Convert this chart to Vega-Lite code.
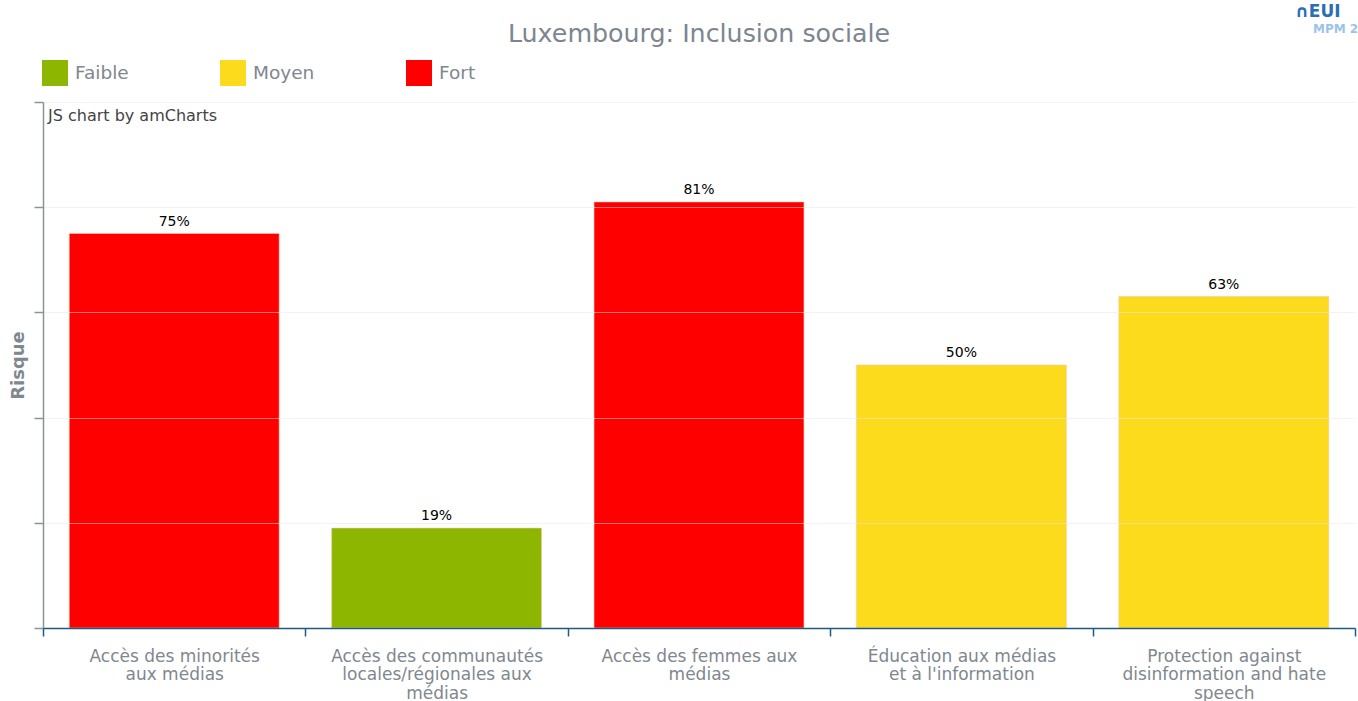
{
  "$schema": "https://vega.github.io/schema/vega-lite/v6.json",
  "width": 1312,
  "height": 526,
  "autosize": {"type": "none"},
  "padding": {"left": 43, "top": 102, "right": 3, "bottom": 73},
  "background": "white",
  "title": {
    "text": "Luxembourg: Inclusion sociale",
    "fontSize": 25.3,
    "font": "DejaVu Sans",
    "fontWeight": "normal",
    "color": "#7d8590",
    "anchor": "middle",
    "offset": 13,
    "dy": 57
  },
  "config": {
    "view": {"stroke": null},
    "font": "DejaVu Sans"
  },
  "data": {
    "values": [
      {"indicateur": "Accès des minorités aux médias", "risque": 75, "niveau": "Fort"},
      {"indicateur": "Accès des communautés locales/régionales aux médias", "risque": 19, "niveau": "Faible"},
      {"indicateur": "Accès des femmes aux médias", "risque": 81, "niveau": "Fort"},
      {"indicateur": "Éducation aux médias et à l'information", "risque": 50, "niveau": "Moyen"},
      {"indicateur": "Protection against disinformation and hate speech", "risque": 63, "niveau": "Moyen"}
    ]
  },
  "encoding": {
    "x": {
      "field": "indicateur",
      "type": "nominal",
      "sort": null,
      "scale": {"paddingInner": 0, "paddingOuter": 0},
      "axis": {
        "title": null,
        "labelAngle": 0,
        "labelFontSize": 17,
        "labelColor": "#80878f",
        "labelLineHeight": 18.5,
        "labelPadding": 12,
        "labelBaseline": "top",
        "labelLimit": 400,
        "domainColor": "#1f5a85",
        "domainWidth": 1.5,
        "tickColor": "#1f5a85",
        "tickWidth": 1.5,
        "tickSize": 8,
        "tickBand": "extent",
        "zindex": 2,
        "labelExpr": "datum.value == 'Accès des minorités aux médias' ? ['Accès des minorités', 'aux médias'] : datum.value == 'Accès des communautés locales/régionales aux médias' ? ['Accès des communautés', 'locales/régionales aux', 'médias'] : datum.value == 'Accès des femmes aux médias' ? ['Accès des femmes aux', 'médias'] : datum.value == \"Éducation aux médias et à l'information\" ? ['Éducation aux médias', \"et à l'information\"] : datum.value == 'Protection against disinformation and hate speech' ? ['Protection against', 'disinformation and hate', 'speech'] : ''"
      }
    }
  },
  "layer": [
    {
      "mark": {"type": "bar", "width": {"band": 0.8}, "stroke": "#f3c9a8", "strokeWidth": 1, "strokeOpacity": 0.6},
      "encoding": {
        "y": {
          "field": "risque",
          "type": "quantitative",
          "scale": {"domain": [0, 100], "nice": false},
          "axis": {
            "title": "Risque",
            "titleFontSize": 18,
            "titleFontWeight": "bold",
            "titleColor": "#80878f",
            "titleX": -25,
            "titleY": 263,
            "titleAngle": -90,
            "titleBaseline": "middle",
            "titleAlign": "center",
            "values": [0, 20, 40, 60, 80, 100],
            "labels": false,
            "domainColor": "#8a929a",
            "domainWidth": 1.5,
            "tickColor": "#8a929a",
            "tickWidth": 1.5,
            "tickSize": 9,
            "grid": true,
            "gridColor": "#e8e8e8",
            "gridWidth": 1.2,
            "gridOpacity": 0.5,
            "zindex": 1
          }
        },
        "color": {
          "field": "niveau",
          "type": "nominal",
          "scale": {"domain": ["Faible", "Moyen", "Fort"], "range": ["#8db600", "#fbdb1b", "#ff0000"]},
          "legend": {
            "title": null,
            "orient": "none",
            "legendX": -1,
            "legendY": -42,
            "direction": "horizontal",
            "symbolType": "square",
            "symbolSize": 676,
            "symbolStrokeWidth": 0,
            "symbolOpacity": 1,
            "labelFontSize": 18.5,
            "labelColor": "#80878f",
            "labelOffset": 7,
            "columnPadding": 91,
            "labelLimit": 200
          }
        }
      }
    },
    {
      "transform": [{"calculate": "datum.risque + '%'", "as": "etiquette"}],
      "mark": {"type": "text", "dy": -12, "fontSize": 14, "color": "#000000"},
      "encoding": {
        "y": {"field": "risque", "type": "quantitative"},
        "text": {"field": "etiquette", "type": "nominal"}
      }
    },
    {
      "transform": [{"filter": "datum.indicateur == 'Accès des minorités aux médias'"}],
      "mark": {"type": "text", "align": "left", "baseline": "middle", "dx": 5, "fontSize": 16, "color": "#444444"},
      "encoding": {
        "x": {"field": "indicateur", "type": "nominal", "sort": null, "bandPosition": 0},
        "y": {"datum": 97.3},
        "text": {"value": "JS chart by amCharts"}
      }
    },
    {
      "transform": [{"filter": "datum.indicateur == 'Protection against disinformation and hate speech'"}],
      "mark": {"type": "text", "align": "left", "baseline": "middle", "dx": -60, "fontSize": 17, "fontWeight": "bold", "color": "#2a6fb0"},
      "encoding": {
        "x": {"field": "indicateur", "type": "nominal", "sort": null, "bandPosition": 1},
        "y": {"datum": 117.1},
        "text": {"value": "∩EUI"}
      }
    },
    {
      "transform": [{"filter": "datum.indicateur == 'Protection against disinformation and hate speech'"}],
      "mark": {"type": "text", "align": "left", "baseline": "middle", "dx": -42, "fontSize": 12, "fontWeight": "bold", "color": "#9cc3e8"},
      "encoding": {
        "x": {"field": "indicateur", "type": "nominal", "sort": null, "bandPosition": 1},
        "y": {"datum": 113.9},
        "text": {"value": "MPM 2024"}
      }
    }
  ]
}
